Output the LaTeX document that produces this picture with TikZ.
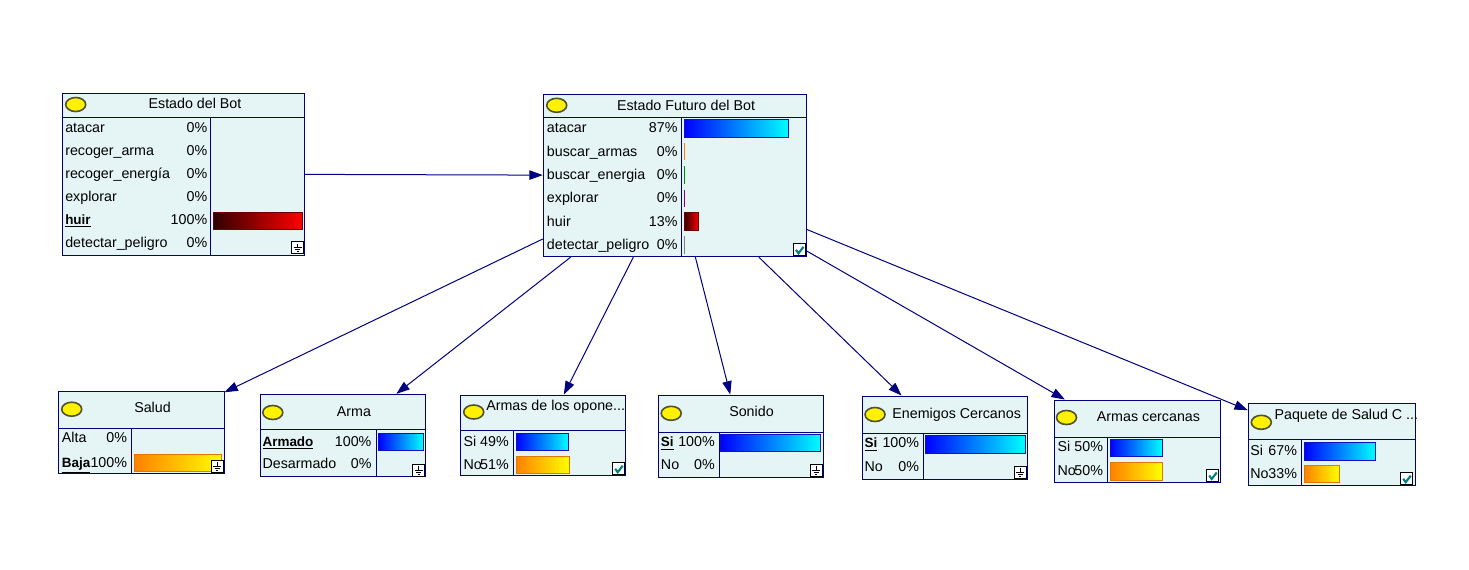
\documentclass[tikz,border=0pt]{standalone}
\usepackage{fontspec}
\setmainfont{Liberation Sans}
\usetikzlibrary{fit,arrows.meta}
\definecolor{boxbg}{RGB}{229,245,245}
\definecolor{navy}{RGB}{0,0,128}
\definecolor{bulbline}{RGB}{80,80,50}
\definecolor{blueL}{RGB}{0,0,255}
\definecolor{blueR}{RGB}{0,255,255}
\definecolor{blueD}{RGB}{16,16,190}
\definecolor{redL}{RGB}{48,0,0}
\definecolor{redR}{RGB}{255,0,0}
\definecolor{redD}{RGB}{110,0,0}
\definecolor{orL}{RGB}{255,128,0}
\definecolor{orR}{RGB}{255,255,0}
\definecolor{orD}{RGB}{224,120,0}
\definecolor{zorange}{RGB}{255,128,0}
\definecolor{zgreen}{RGB}{0,140,0}
\definecolor{zpurple}{RGB}{128,0,128}
\definecolor{zgray}{RGB}{128,128,128}
\definecolor{checkc}{RGB}{0,128,128}
% box: name, x1, y1, x2, y2, title-separator y, column separator x
\newcommand\bnnode[7]{%
  \node[bnbox, fit={(#2,#3) (#4,#5)}] (#1) {};
  \draw[sepline] (#2,#6) -- (#4,#6);
  \draw[sepline] (#7,#6) -- (#7,#5);}
\newcommand\bulbat[2]{\draw[bulb] (#1,#2) ellipse [x radius=10, y radius=7];}
\newcommand\rowl[3]{\node[txt, anchor=base west] at (#1,#2+4.5) {#3};}
\newcommand\rowp[3]{\node[txt, anchor=base east] at (#1,#2+4.5) {#3};}
\newcommand\titlec[3]{\node[txt, anchor=base] at (#1,#2+4.5) {#3};}
\newcommand\titlew[3]{\node[txt, anchor=base west] at (#1,#2+4.5) {#3};}
\newcommand\obs[1]{{\fontsize{10.1}{12}\selectfont\underline{\textbf{#1}}}}
\newcommand\gicon[2]{%
  \draw[icobox] (#1,#2) rectangle ++(12,12);
  \draw[black, line width=0.75pt] (#1+6,#2+2) -- (#1+6,#2+6)
     (#1+2,#2+6) -- (#1+10,#2+6) (#1+3.5,#2+8) -- (#1+8.5,#2+8)
     (#1+5,#2+10) -- (#1+7,#2+10);}
\newcommand\cicon[2]{%
  \draw[icobox] (#1,#2) rectangle ++(12,12);
  \draw[checkc, line width=1.6pt] (#1+2.5,#2+6) -- (#1+5,#2+9.5) -- (#1+10,#2+3);}
\newcommand\zline[3]{\draw[#3, line width=0.75pt] (#1,#2-8.7) -- (#1,#2+8.7);}
\begin{document}
\begin{tikzpicture}[x=0.75pt,y=-0.75pt,
  bnbox/.style={draw=navy, fill=boxbg, line width=0.75pt, inner sep=0pt},
  sepline/.style={draw=navy, line width=0.75pt},
  bulb/.style={fill=yellow, draw=bulbline, line width=1.2pt},
  txt/.style={inner sep=0pt, font=\fontsize{10.7}{12}\selectfont, text=black},
  bluebar/.style={left color=blueL, right color=blueR, draw=blueD, line width=0.75pt},
  redbar/.style={left color=redL, right color=redR, draw=redD, line width=0.75pt},
  orbar/.style={left color=orL, right color=orR, draw=orD, line width=0.75pt},
  icobox/.style={draw=black, fill=white, line width=0.75pt},
  edge/.style={draw=navy, line width=0.75pt, -{Triangle[length=10pt, width=7pt]}}]
\useasboundingbox (0,0) rectangle (1469,569);
\fill[white] (0,0) rectangle (1469,569);

% ---- Estado del Bot
\bnnode{A}{62}{93}{304}{255}{117}{210}
\bulbat{75.7}{104.5}
\titlec{195}{104}{Estado del Bot}
\rowl{65}{127.5}{atacar}\rowp{207.5}{127.5}{0\%}
\rowl{65}{150.5}{recoger\_arma}\rowp{207.5}{150.5}{0\%}
\rowl{65}{173.5}{recoger\_energía}\rowp{207.5}{173.5}{0\%}
\rowl{65}{196.5}{explorar}\rowp{207.5}{196.5}{0\%}
\rowl{65}{219.5}{\obs{huir}}\rowp{207.5}{219.5}{100\%}
\rowl{65}{242.5}{detectar\_peligro}\rowp{207.5}{242.5}{0\%}
\draw[redbar] (213,212) rectangle (302.7,229.3);
\gicon{291.7}{241.7}

% ---- Estado Futuro del Bot
\bnnode{B}{543.3}{94.3}{806}{256.7}{117.3}{681}
\bulbat{556.7}{105.3}
\titlec{686}{105.7}{Estado Futuro del Bot}
\rowl{546.7}{128.3}{atacar}\rowp{677.7}{128.3}{87\%}
\rowl{546.7}{151.6}{buscar\_armas}\rowp{677.7}{151.6}{0\%}
\rowl{546.7}{174.9}{buscar\_energia}\rowp{677.7}{174.9}{0\%}
\rowl{546.7}{198.2}{explorar}\rowp{677.7}{198.2}{0\%}
\rowl{546.7}{221.5}{huir}\rowp{677.7}{221.5}{13\%}
\rowl{546.7}{244.8}{detectar\_peligro}\rowp{677.7}{244.8}{0\%}
\draw[bluebar] (684,119.6) rectangle (788.7,137.0);
\draw[redbar] (684,212.8) rectangle (698.7,230.2);
\zline{684.7}{151.6}{zorange}
\zline{684.7}{174.9}{zgreen}
\zline{684.7}{198.2}{zpurple}
\zline{684.7}{244.8}{zgray}
\cicon{793.5}{243.8}

% ---- Salud
\bnnode{C}{58.3}{391}{224}{473.3}{428.3}{131.7}
\bulbat{71.7}{409.2}
\titlec{152.5}{408.3}{Salud}
\rowl{61.7}{438.3}{Alta}\rowp{127.3}{438.3}{0\%}
\rowl{61.7}{463.3}{\obs{Baja}}\rowp{127.3}{463.3}{100\%}
\draw[orbar] (134,454.3) rectangle (221.7,471.7);
\gicon{211}{460.3}

% ---- Arma
\bnnode{D}{260.7}{394.3}{425.7}{476.7}{429.3}{376.7}
\bulbat{272.8}{412.5}
\titlec{354}{411.7}{Arma}
\rowl{262.3}{441.7}{\obs{Armado}}\rowp{371.7}{441.7}{100\%}
\rowl{262.3}{464.3}{Desarmado}\rowp{371.7}{464.3}{0\%}
\draw[bluebar] (378.3,433.3) rectangle (423.3,450.7);
\gicon{412.7}{464}

% ---- Armas de los oponentes
\bnnode{E}{460.7}{395}{625.7}{475.7}{430.7}{513.7}
\bulbat{473.7}{412}
\titlew{486}{405.7}{Armas de los opone...}
\rowl{463.3}{441.7}{Si}\rowp{509}{441.7}{49\%}
\rowl{463.3}{465}{No}\rowp{509}{465}{51\%}
\draw[bluebar] (516,433.3) rectangle (568.7,450.3);
\draw[orbar] (516,456) rectangle (569.3,473.3);
\cicon{612.7}{462.7}

% ---- Sonido
\bnnode{F}{658.3}{395}{823.3}{477.3}{432.7}{719.3}
\bulbat{671.2}{413.3}
\titlec{751.5}{412.3}{Sonido}
\rowl{660.7}{442.3}{\obs{Si}}\rowp{715}{442.3}{100\%}
\rowl{660.7}{465}{No}\rowp{715}{465}{0\%}
\draw[bluebar] (720.7,434) rectangle (820.7,451);
\gicon{810}{464.3}

% ---- Enemigos Cercanos
\bnnode{G}{862.3}{396}{1027.7}{479.3}{433.3}{923.3}
\bulbat{875}{414.5}
\titlec{956.7}{414.3}{Enemigos Cercanos}
\rowl{864.3}{443.3}{\obs{Si}}\rowp{919.3}{443.3}{100\%}
\rowl{864.3}{467.3}{No}\rowp{919.3}{467.3}{0\%}
\draw[bluebar] (925,435.7) rectangle (1025,453.3);
\gicon{1014.3}{466}

% ---- Armas cercanas
\bnnode{H}{1054.3}{400}{1220}{482.3}{437.7}{1107.3}
\bulbat{1066.5}{417.5}
\titlec{1148.5}{417.3}{Armas cercanas}
\rowl{1057.3}{447.3}{Si}\rowp{1103.3}{447.3}{50\%}
\rowl{1057.3}{470.7}{No}\rowp{1103.3}{470.7}{50\%}
\draw[bluebar] (1110,439) rectangle (1162.3,456.7);
\draw[orbar] (1110,462.7) rectangle (1162.3,480);
\cicon{1206.7}{469.5}

% ---- Paquete de Salud
\bnnode{I}{1248.3}{403.3}{1415}{485.7}{439}{1301.7}
\bulbat{1261.3}{422.3}
\titlew{1274.3}{415}{Paquete de Salud C ...}
\rowl{1250}{451}{Si}\rowp{1297.3}{451}{67\%}
\rowl{1250}{474}{No}\rowp{1297.3}{474}{33\%}
\draw[bluebar] (1304,442.3) rectangle (1375.7,460);
\draw[orbar] (1304,465) rectangle (1339,482.3);
\cicon{1400.7}{472.7}

% ---- connectors
\draw[edge] (A) -- (B);
\draw[edge] (B) -- (C);
\draw[edge] (B) -- (D);
\draw[edge] (B) -- (E);
\draw[edge] (B) -- (F);
\draw[edge] (B) -- (G);
\draw[edge] (B) -- (H);
\draw[edge] (B) -- (I);
\end{tikzpicture}
\end{document}
